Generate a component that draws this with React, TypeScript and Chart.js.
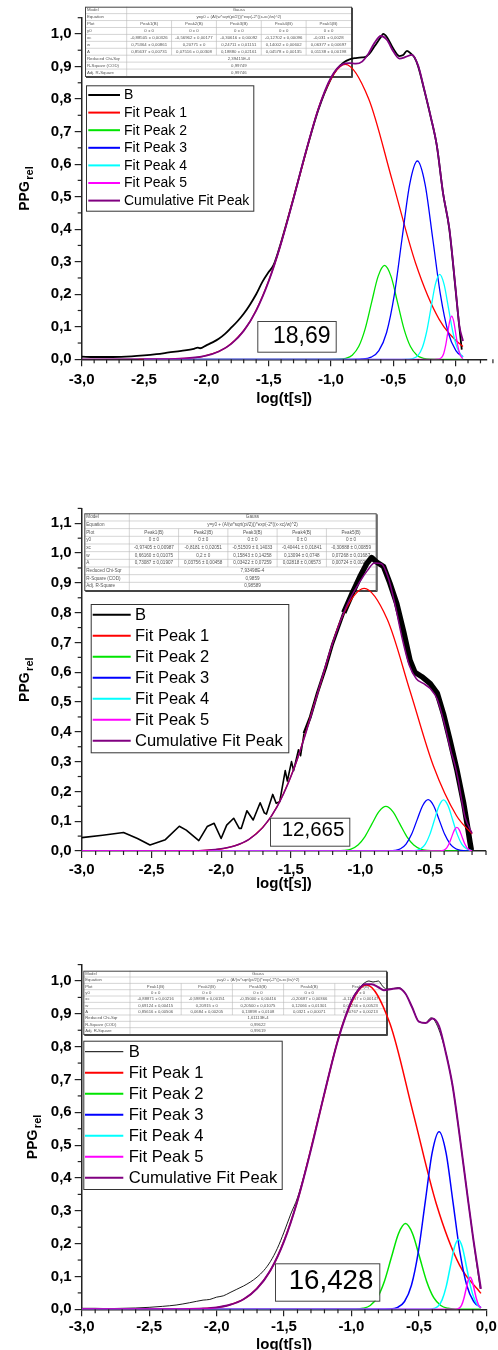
import React, { useEffect, useRef } from "react";
import { Chart, registerables } from "chart.js";

Chart.register(...registerables);

const FONT = '"Liberation Sans", Arial, Helvetica, sans-serif';
const W = 498;
const H = 450;
const AXIS = "#222222";

// ---------- shared text / style data ----------
const SERIES_LABELS = ["B", "Fit Peak 1", "Fit Peak 2", "Fit Peak 3", "Fit Peak 4", "Fit Peak 5", "Cumulative Fit Peak"];
const SERIES_COLORS = ["#000000", "#ff0000", "#00e400", "#0000ff", "#00ffff", "#ff00ff", "#800080"];
const SERIES_ORDER = [7, 6, 5, 4, 3, 1, 2];
const X_TITLE = "log(t[s])";
const Y_TITLE = "PPG";
const Y_TITLE_SUB = "rel";
const BOX_LABELS = ["18,69", "12,665", "16,428"];

const X_TICKS_1 = [-3, -2.5, -2, -1.5, -1, -0.5, 0];
const X_TICKS_2 = [-3, -2.5, -2, -1.5, -1, -0.5];
const X_TICKS_3 = [-3, -2.5, -2, -1.5, -1, -0.5, 0];
const Y_TICKS_1 = [0, 0.1, 0.2, 0.3, 0.4, 0.5, 0.6, 0.7, 0.8, 0.9, 1.0];
const Y_TICKS_2 = [0, 0.1, 0.2, 0.3, 0.4, 0.5, 0.6, 0.7, 0.8, 0.9, 1.0, 1.1];
const Y_TICKS_3 = [0, 0.1, 0.2, 0.3, 0.4, 0.5, 0.6, 0.7, 0.8, 0.9, 1.0];

// ---------- fit tables ----------
const TABLE_ROWS = ["Model", "Equation", "Plot", "y0", "xc", "w", "A", "Reduced Chi-Sqr", "R-Square (COD)", "Adj. R-Square"];
const TABLE_MODEL = "Gauss";
const TABLE_EQUATION = "y=y0 + (A/(w*sqrt(pi/2)))*exp(-2*((x-xc)/w)^2)";
const TABLE_PLOTS = ["Peak1(B)", "Peak2(B)", "Peak3(B)", "Peak4(B)", "Peak5(B)"];
const TABLE_Y0 = ["0 ± 0", "0 ± 0", "0 ± 0", "0 ± 0", "0 ± 0"];

const T1_XC = ["-0,88505 ± 0,00326", "-0,56962 ± 0,00177", "-0,30616 ± 0,00092", "-0,12702 ± 0,00096", "-0,031 ± 0,0028"];
const T1_W = ["0,75364 ± 0,00861", "0,20771 ± 0", "0,24711 ± 0,01151", "0,14002 ± 0,00602", "0,06377 ± 0,00697"];
const T1_A = ["0,85637 ± 0,00731", "0,07516 ± 0,00308", "0,18880 ± 0,02161", "0,04578 ± 0,00135", "0,01138 ± 0,00198"];
const T1_STATS = ["2,39415E-4", "0,99749", "0,99746"];

const T2_XC = ["-0,97405 ± 0,00987", "-0,8181 ± 0,02051", "-0,51509 ± 0,14033", "-0,40441 ± 0,01841", "-0,30888 ± 0,00859"];
const T2_W = ["0,66160 ± 0,01075", "0,2 ± 0", "0,15843 ± 0,14258", "0,13094 ± 0,0748", "0,07268 ± 0,01687"];
const T2_A = ["0,73087 ± 0,01907", "0,03756 ± 0,00458", "0,03422 ± 0,07259", "0,02818 ± 0,06573", "0,00724 ± 0,00235"];
const T2_STATS = ["7,93498E-4", "0,9859", "0,98589"];

const T3_XC = ["-0,88871 ± 0,00216", "-0,59898 ± 0,00151", "-0,35000 ± 0,00416", "-0,20687 ± 0,00366", "-0,11957 ± 0,00147"];
const T3_W = ["0,69124 ± 0,00415", "0,20915 ± 0", "0,20500 ± 0,01075", "0,12066 ± 0,01301", "0,06256 ± 0,00523"];
const T3_A = ["0,85616 ± 0,00506", "0,0684 ± 0,00205", "0,13898 ± 0,0108", "0,0321 ± 0,00071", "0,00767 ± 0,00213"];
const T3_STATS = ["1,61113E-4", "0,99622", "0,99619"];

// ---------- chart 1 series ----------
const C1_B_X = [-3.0, -2.9, -2.75, -2.6, -2.5, -2.4, -2.3, -2.2, -2.1, -2.07, -2.05, -2.0, -1.95, -1.9, -1.85, -1.8, -1.75, -1.7, -1.65, -1.6, -1.55, -1.5, -1.46, -1.4, -1.3, -1.2, -1.1, -1.0, -0.95, -0.9, -0.85, -0.8, -0.75, -0.72, -0.68, -0.65, -0.6, -0.58, -0.55, -0.5, -0.45, -0.42, -0.39, -0.36, -0.33, -0.3, -0.25, -0.2, -0.15, -0.1, -0.05, 0.0, 0.03, 0.05];
const C1_B_Y = [0.008, 0.007, 0.007, 0.009, 0.012, 0.016, 0.021, 0.026, 0.032, 0.036, 0.034, 0.043, 0.052, 0.063, 0.078, 0.097, 0.117, 0.14, 0.168, 0.2, 0.238, 0.268, 0.29, 0.36, 0.496, 0.638, 0.768, 0.862, 0.893, 0.912, 0.922, 0.926, 0.928, 0.93, 0.945, 0.962, 0.99, 1.0, 0.99, 0.955, 0.932, 0.935, 0.948, 0.94, 0.928, 0.9, 0.826, 0.746, 0.656, 0.51, 0.4, 0.215, 0.1, 0.03];
const C1_P1_X = [-2.5429, -2.2415, -2.0154, -1.827, -1.6386, -1.4502, -1.2618, -1.0734, -0.885, -0.6966, -0.5082, -0.3198, -0.1314, 0.057, 0.06];
const C1_P1_Y = [0, 0.0014, 0.0101, 0.0398, 0.1227, 0.2944, 0.5499, 0.8002, 0.9067, 0.8002, 0.5499, 0.2944, 0.1227, 0.0398, 0.0393];
const C1_P2_X = [-2.5, -1.0265, -0.9435, -0.8812, -0.8292, -0.7773, -0.7254, -0.6735, -0.6215, -0.5696, -0.5177, -0.4657, -0.4138, -0.3619, -0.31, -0.258, -0.1957, -0.1127, 0.06];
const C1_P2_Y = [0, 0, 0.0004, 0.0032, 0.0127, 0.0391, 0.0937, 0.1751, 0.2548, 0.2887, 0.2548, 0.1751, 0.0937, 0.0391, 0.0127, 0.0032, 0.0004, 0, 0];
const C1_P3_X = [-2.5, -0.8498, -0.751, -0.6769, -0.6151, -0.5533, -0.4915, -0.4298, -0.368, -0.3062, -0.2444, -0.1826, -0.1209, -0.0591, 0.0027, 0.06];
const C1_P3_Y = [0, 0, 0.0009, 0.0068, 0.0268, 0.0825, 0.1979, 0.3697, 0.538, 0.6096, 0.538, 0.3697, 0.1979, 0.0825, 0.0268, 0.0075];
const C1_P4_X = [-2.5, -0.435, -0.379, -0.337, -0.302, -0.267, -0.232, -0.197, -0.162, -0.127, -0.092, -0.057, -0.022, 0.013, 0.048, 0.06];
const C1_P4_Y = [0, 0, 0.0004, 0.0029, 0.0115, 0.0353, 0.0847, 0.1582, 0.2302, 0.2609, 0.2302, 0.1582, 0.0847, 0.0353, 0.0115, 0.0074];
const C1_P5_X = [-2.5, -0.1714, -0.1458, -0.1267, -0.1108, -0.0948, -0.0789, -0.0629, -0.047, -0.031, -0.015, 0.0009, 0.0169, 0.0328, 0.0488, 0.06];
const C1_P5_Y = [0, 0, 0.0002, 0.0015, 0.0058, 0.018, 0.0432, 0.0807, 0.1174, 0.133, 0.1174, 0.0807, 0.0432, 0.018, 0.0058, 0.0023];
const C1_CUM_X = [-3.0, -2.5, -2.25, -2.0, -1.9, -1.8, -1.7, -1.6, -1.5, -1.4, -1.3, -1.2, -1.1, -1.0, -0.9, -0.85, -0.8, -0.75, -0.7, -0.65, -0.6, -0.55, -0.5, -0.45, -0.4, -0.35, -0.3, -0.25, -0.2, -0.15, -0.1, -0.05, 0.0, 0.03, 0.06];
const C1_CUM_Y = [0, 0.0001, 0.0013, 0.0114, 0.0241, 0.0475, 0.0874, 0.1498, 0.2394, 0.3563, 0.4944, 0.6393, 0.7705, 0.8656, 0.9078, 0.9103, 0.9087, 0.9151, 0.9388, 0.9731, 0.9938, 0.9813, 0.9467, 0.9242, 0.9293, 0.9359, 0.9027, 0.8271, 0.747, 0.6568, 0.5099, 0.4028, 0.219, 0.105, 0.0565];

// ---------- chart 2 series ----------
const C2_B_X = [-3.0, -2.85, -2.7, -2.6, -2.51, -2.4, -2.3, -2.25, -2.16, -2.1, -2.05, -2.0, -1.96, -1.91, -1.87, -1.855, -1.815, -1.77, -1.72, -1.69, -1.675, -1.63, -1.605, -1.58, -1.54, -1.525, -1.495, -1.48, -1.445, -1.43, -1.405, -1.36, -1.31, -1.25, -1.2, -1.12, -1.06, -1.0, -0.955, -0.92, -0.885, -0.835, -0.79, -0.74, -0.69, -0.645, -0.61, -0.56, -0.5, -0.45, -0.405, -0.36, -0.31, -0.26, -0.23, -0.215, -0.205];
const C2_B_Y = [0.045, 0.053, 0.062, 0.042, 0.02, 0.038, 0.083, 0.07, 0.035, 0.082, 0.093, 0.042, 0.087, 0.11, 0.076, 0.076, 0.135, 0.104, 0.162, 0.128, 0.124, 0.19, 0.16, 0.165, 0.27, 0.235, 0.3, 0.27, 0.34, 0.32, 0.395, 0.45, 0.53, 0.615, 0.695, 0.8, 0.865, 0.925, 0.965, 0.985, 0.97, 0.955, 0.9, 0.83, 0.735, 0.64, 0.6, 0.585, 0.562, 0.53, 0.46, 0.375, 0.275, 0.16, 0.075, 0.03, 0.003];
const C2_P1_X = [-3.0, -2.4295, -2.1649, -1.9664, -1.801, -1.6356, -1.4702, -1.3048, -1.1394, -0.974, -0.8086, -0.6432, -0.4778, -0.3124, -0.2];
const C2_P1_Y = [0, 0, 0.0013, 0.0098, 0.0387, 0.1193, 0.2862, 0.5346, 0.7778, 0.8814, 0.7778, 0.5346, 0.2862, 0.1193, 0.057];
const C2_P2_X = [-3.0, -1.2581, -1.1781, -1.1181, -1.0681, -1.0181, -0.9681, -0.9181, -0.8681, -0.8181, -0.7681, -0.7181, -0.6681, -0.6181, -0.5681, -0.5181, -0.4581, -0.3781, -0.2];
const C2_P2_Y = [0, 0, 0.0002, 0.0017, 0.0066, 0.0203, 0.0486, 0.0909, 0.1322, 0.1498, 0.1322, 0.0909, 0.0486, 0.0203, 0.0066, 0.0017, 0.0002, 0, 0];
const C2_P3_X = [-3.0, -0.8636, -0.8002, -0.7527, -0.7131, -0.6735, -0.6339, -0.5943, -0.5547, -0.5151, -0.4755, -0.4359, -0.3963, -0.3567, -0.3171, -0.2775, -0.23, -0.2];
const C2_P3_Y = [0, 0, 0.0003, 0.0019, 0.0076, 0.0233, 0.0559, 0.1045, 0.1521, 0.1723, 0.1521, 0.1045, 0.0559, 0.0233, 0.0076, 0.0019, 0.0003, 0.0001];
const C2_P4_X = [-3.0, -0.6924, -0.64, -0.6008, -0.568, -0.5353, -0.5026, -0.4699, -0.4371, -0.4044, -0.3717, -0.3389, -0.3062, -0.2735, -0.2408, -0.208, -0.2];
const C2_P4_Y = [0, 0, 0.0003, 0.0019, 0.0075, 0.0232, 0.0558, 0.1041, 0.1515, 0.1717, 0.1515, 0.1041, 0.0558, 0.0232, 0.0075, 0.0019, 0.0013];
const C2_P5_X = [-3.0, -0.4689, -0.4398, -0.418, -0.3998, -0.3816, -0.3634, -0.3453, -0.3271, -0.3089, -0.2907, -0.2725, -0.2544, -0.2362, -0.218, -0.2];
const C2_P5_Y = [0, 0, 0.0001, 0.0009, 0.0035, 0.0108, 0.0258, 0.0482, 0.0702, 0.0795, 0.0702, 0.0482, 0.0258, 0.0108, 0.0035, 0.0009];
const C2_CUM_X = [-3.0, -2.5, -2.25, -2.1, -2.0, -1.9, -1.8, -1.7, -1.6, -1.5, -1.4, -1.3, -1.2, -1.1, -1.0, -0.95, -0.9, -0.85, -0.8, -0.75, -0.7, -0.65, -0.6, -0.55, -0.5, -0.45, -0.4, -0.35, -0.325, -0.3, -0.275, -0.25, -0.2];
const C2_CUM_Y = [0, 0, 0.0005, 0.0027, 0.0072, 0.0175, 0.039, 0.0793, 0.1471, 0.249, 0.3846, 0.5424, 0.698, 0.8225, 0.9073, 0.9419, 0.9667, 0.9642, 0.9152, 0.8217, 0.7113, 0.6227, 0.5781, 0.5625, 0.5451, 0.5092, 0.4302, 0.3319, 0.2926, 0.2402, 0.1721, 0.113, 0.0593];

// ---------- chart 3 series ----------
const C3_B_X = [-3.0, -2.9, -2.8, -2.7, -2.6, -2.5, -2.4, -2.3, -2.2, -2.1, -2.05, -2.0, -1.95, -1.9, -1.85, -1.8, -1.75, -1.7, -1.65, -1.6, -1.55, -1.5, -1.45, -1.4, -1.3, -1.2, -1.1, -1.0, -0.95, -0.9, -0.87, -0.84, -0.8, -0.77, -0.74, -0.7, -0.65, -0.6, -0.55, -0.5, -0.45, -0.41, -0.37, -0.3, -0.25, -0.2, -0.15, -0.1, -0.045];
const C3_B_Y = [0.003, 0.003, 0.002, 0.003, 0.004, 0.006, 0.009, 0.013, 0.02, 0.028, 0.03, 0.037, 0.041, 0.051, 0.061, 0.071, 0.083, 0.098, 0.118, 0.146, 0.185, 0.235, 0.29, 0.34, 0.488, 0.66, 0.82, 0.94, 0.975, 0.995, 1.0, 0.997, 1.0, 0.985, 0.975, 0.976, 0.98, 0.962, 0.92, 0.877, 0.872, 0.888, 0.87, 0.782, 0.68, 0.536, 0.379, 0.224, 0.062];
const C3_P1_X = [-3.0, -2.4093, -2.1329, -1.9255, -1.7527, -1.5799, -1.4071, -1.2343, -1.0615, -0.8887, -0.7159, -0.5431, -0.3703, -0.1975, -0.04];
const C3_P1_Y = [0, 0, 0.0015, 0.011, 0.0434, 0.1337, 0.3208, 0.5992, 0.8719, 0.988, 0.8719, 0.5992, 0.3208, 0.1337, 0.0484];
const C3_P2_X = [-3.0, -1.0592, -0.9756, -0.9128, -0.8605, -0.8082, -0.7559, -0.7036, -0.6513, -0.599, -0.5467, -0.4944, -0.4421, -0.3898, -0.3375, -0.2852, -0.2224, -0.1388, -0.04];
const C3_P2_Y = [0, 0, 0.0004, 0.0029, 0.0115, 0.0353, 0.0847, 0.1583, 0.2303, 0.261, 0.2303, 0.1583, 0.0847, 0.0353, 0.0115, 0.0029, 0.0004, 0, 0];
const C3_P3_X = [-3.0, -0.801, -0.719, -0.6575, -0.6063, -0.555, -0.5038, -0.4525, -0.4013, -0.35, -0.2987, -0.2475, -0.1962, -0.145, -0.0937, -0.04];
const C3_P3_Y = [0, 0, 0.0008, 0.006, 0.0238, 0.0732, 0.1757, 0.3281, 0.4774, 0.541, 0.4774, 0.3281, 0.1757, 0.0732, 0.0238, 0.0056];
const C3_P4_X = [-3.0, -0.4725, -0.4243, -0.3881, -0.3579, -0.3277, -0.2975, -0.2674, -0.2372, -0.207, -0.1768, -0.1466, -0.1165, -0.0863, -0.0561, -0.04];
const C3_P4_Y = [0, 0, 0.0003, 0.0024, 0.0093, 0.0287, 0.0689, 0.1288, 0.1874, 0.2123, 0.1874, 0.1288, 0.0689, 0.0287, 0.0093, 0.0046];
const C3_P5_X = [-3.0, -0.2577, -0.2327, -0.2139, -0.1983, -0.1826, -0.167, -0.1513, -0.1357, -0.12, -0.1043, -0.0887, -0.073, -0.0574, -0.04];
const C3_P5_Y = [0, 0, 0.0001, 0.0011, 0.0043, 0.0132, 0.0318, 0.0593, 0.0863, 0.0978, 0.0863, 0.0593, 0.0318, 0.0132, 0.0037];
const C3_CUM_X = [-3.0, -2.5, -2.25, -2.1, -2.0, -1.9, -1.8, -1.7, -1.6, -1.5, -1.4, -1.3, -1.2, -1.1, -1.0, -0.95, -0.9, -0.85, -0.8, -0.76, -0.7, -0.65, -0.6, -0.55, -0.5, -0.45, -0.4, -0.35, -0.3, -0.25, -0.2, -0.15, -0.1, -0.04];
const C3_CUM_Y = [0, 0, 0.0004, 0.0021, 0.0056, 0.0137, 0.0306, 0.0628, 0.1189, 0.2067, 0.3308, 0.4866, 0.6585, 0.8196, 0.9383, 0.972, 0.99, 0.99, 0.981, 0.972, 0.976, 0.978, 0.962, 0.92, 0.876, 0.872, 0.886, 0.862, 0.781, 0.681, 0.536, 0.379, 0.2245, 0.0623];

// ---------- helpers ----------
const zip = (xs: number[], ys: number[]) => {
  const n = Math.min(xs.length, ys.length);
  const out: { x: number; y: number }[] = [];
  for (let i = 0; i < n; i++) out.push({ x: xs[i], y: ys[i] });
  return out;
};
const fmt = (v: number) => v.toFixed(1).replace(".", ",");

type Spec = {
  xMin: number; xMax: number; yMax: number;
  xTicks: number[]; yTicks: number[];
  area: { left: number; right: number; top: number; bottom: number };
  series: [number[], number[]][];
  lineWidths: number[];
  smoothB: boolean;
  bSegmentWidth?: (i: number) => number;
  legend: { x: number; y: number; w: number; h: number; l1: number; l2: number; tx: number; y0: number; step: number; fs: number; widths: number[] };
  box: { x: number; y: number; w: number; h: number; cx: number; cy: number; fs: number; text: string };
  table: { x: number; y: number; w: number; h: number; c0: number; fs: number; xc: string[]; wv: string[]; av: string[]; stats: string[] };
  xLabelPad: number;
  xTitleY: number;
  yTitleX: number;
};

function drawTable(ctx: CanvasRenderingContext2D, t: Spec["table"]) {
  const rh = t.h / 10;
  const cw = (t.w - t.c0) / 5;
  ctx.save();
  ctx.fillStyle = "#ffffff";
  ctx.fillRect(t.x, t.y, t.w, t.h);
  ctx.strokeStyle = "#b8b8b8";
  ctx.lineWidth = 0.6;
  for (let i = 1; i < 10; i++) {
    ctx.beginPath();
    ctx.moveTo(t.x, t.y + i * rh);
    ctx.lineTo(t.x + t.w, t.y + i * rh);
    ctx.stroke();
  }
  ctx.beginPath();
  ctx.moveTo(t.x + t.c0, t.y);
  ctx.lineTo(t.x + t.c0, t.y + t.h);
  ctx.stroke();
  for (let j = 1; j < 5; j++) {
    ctx.beginPath();
    ctx.moveTo(t.x + t.c0 + j * cw, t.y + 2 * rh);
    ctx.lineTo(t.x + t.c0 + j * cw, t.y + 7 * rh);
    ctx.stroke();
  }
  ctx.strokeStyle = "#444444";
  ctx.lineWidth = 1;
  ctx.strokeRect(t.x + 0.5, t.y + 0.5, t.w, t.h);
  ctx.beginPath();
  ctx.moveTo(t.x + t.w + 1.5, t.y + 1);
  ctx.lineTo(t.x + t.w + 1.5, t.y + t.h + 1.5);
  ctx.lineTo(t.x + 1, t.y + t.h + 1.5);
  ctx.stroke();

  ctx.fillStyle = "#555555";
  ctx.font = `${t.fs}px ${FONT}`;
  ctx.textBaseline = "middle";
  ctx.textAlign = "left";
  TABLE_ROWS.forEach((r, i) => ctx.fillText(r, t.x + 2, t.y + (i + 0.5) * rh));
  ctx.textAlign = "center";
  const mid = t.x + t.c0 + (t.w - t.c0) / 2;
  ctx.fillText(TABLE_MODEL, mid, t.y + 0.5 * rh);
  ctx.fillText(TABLE_EQUATION, mid, t.y + 1.5 * rh);
  const rows = [TABLE_PLOTS, TABLE_Y0, t.xc, t.wv, t.av];
  rows.forEach((cells, ri) => {
    cells.forEach((c, ci) => ctx.fillText(c, t.x + t.c0 + (ci + 0.5) * cw, t.y + (ri + 2.5) * rh));
  });
  t.stats.forEach((s, i) => ctx.fillText(s, mid, t.y + (i + 7.5) * rh));
  ctx.restore();
}

function decorPlugin(spec: Spec) {
  return {
    id: "decor",
    beforeDatasetsDraw(chart: any) {
      drawTable(chart.ctx, spec.table);
    },
    afterDatasetsDraw(chart: any) {
      const ctx: CanvasRenderingContext2D = chart.ctx;
      const xs = chart.scales.x;
      const ys = chart.scales.y;
      const a = chart.chartArea;
      ctx.save();
      // minor ticks
      ctx.strokeStyle = AXIS;
      ctx.lineWidth = 1.2;
      const i0 = Math.round(spec.xMin * 10);
      const i1 = Math.round(spec.xMax * 10);
      for (let i = i0; i <= i1; i++) {
        if (i % 5 === 0) continue;
        const px = xs.getPixelForValue(i / 10);
        ctx.beginPath();
        ctx.moveTo(px, a.bottom);
        ctx.lineTo(px, a.bottom + 4);
        ctx.stroke();
      }
      const j1 = Math.round(spec.yMax * 20);
      for (let j = 1; j <= j1; j += 2) {
        const py = ys.getPixelForValue(j / 20);
        ctx.beginPath();
        ctx.moveTo(a.left - 4, py);
        ctx.lineTo(a.left, py);
        ctx.stroke();
      }
      // axis titles
      ctx.fillStyle = "#000";
      ctx.font = `bold 15px ${FONT}`;
      ctx.textAlign = "center";
      ctx.textBaseline = "middle";
      ctx.fillText(X_TITLE, (a.left + a.right) / 2, spec.xTitleY);
      ctx.save();
      ctx.translate(spec.yTitleX, (a.top + a.bottom) / 2);
      ctx.rotate(-Math.PI / 2);
      ctx.font = `bold 14px ${FONT}`;
      const wP = ctx.measureText(Y_TITLE).width;
      ctx.font = `bold 11px ${FONT}`;
      const wS = ctx.measureText(Y_TITLE_SUB).width;
      const start = -(wP + 1.5 + wS) / 2;
      ctx.textAlign = "left";
      ctx.font = `bold 14px ${FONT}`;
      ctx.fillText(Y_TITLE, start, 0);
      ctx.font = `bold 11px ${FONT}`;
      ctx.fillText(Y_TITLE_SUB, start + wP + 1.5, 5);
      ctx.restore();
      // legend
      const L = spec.legend;
      ctx.fillStyle = "#ffffff";
      ctx.fillRect(L.x, L.y, L.w, L.h);
      ctx.strokeStyle = "#333333";
      ctx.lineWidth = 1;
      ctx.strokeRect(L.x + 0.5, L.y + 0.5, L.w, L.h);
      ctx.font = `${L.fs}px ${FONT}`;
      ctx.textAlign = "left";
      ctx.textBaseline = "middle";
      SERIES_LABELS.forEach((lab, i) => {
        const y = L.y0 + i * L.step;
        ctx.strokeStyle = SERIES_COLORS[i];
        ctx.lineWidth = L.widths[i];
        ctx.beginPath();
        ctx.moveTo(L.l1, y);
        ctx.lineTo(L.l2, y);
        ctx.stroke();
        ctx.fillStyle = "#000";
        ctx.fillText(lab, L.tx, y + 0.5);
      });
      // value box
      const B = spec.box;
      ctx.fillStyle = "#ffffff";
      ctx.fillRect(B.x, B.y, B.w, B.h);
      ctx.strokeStyle = "#444444";
      ctx.lineWidth = 1;
      ctx.strokeRect(B.x + 0.5, B.y + 0.5, B.w, B.h);
      ctx.fillStyle = "#000";
      ctx.font = `${B.fs}px ${FONT}`;
      ctx.textAlign = "center";
      ctx.fillText(B.text, B.cx, B.cy + 1);
      ctx.restore();
    },
  };
}

function buildConfig(spec: Spec): any {
  const datasets = spec.series.map(([xs, ys], i) => {
    const ds: any = {
      label: SERIES_LABELS[i],
      data: zip(xs, ys),
      borderColor: SERIES_COLORS[i],
      backgroundColor: SERIES_COLORS[i],
      borderWidth: spec.lineWidths[i],
      pointRadius: 0,
      pointHoverRadius: 0,
      fill: false,
      order: SERIES_ORDER[i],
      borderJoinStyle: "round",
    };
    if (i === 0 && !spec.smoothB) {
      ds.tension = 0;
    } else {
      ds.cubicInterpolationMode = "monotone";
    }
    if (i === 0 && spec.bSegmentWidth) {
      const f = spec.bSegmentWidth;
      ds.segment = { borderWidth: (ctx: any) => f(ctx.p0DataIndex) };
    }
    return ds;
  });
  const a = spec.area;
  return {
    type: "line",
    data: { datasets },
    options: {
      animation: false,
      responsive: false,
      devicePixelRatio: 1,
      events: [],
      layout: { padding: { left: 0, top: a.top, right: W - a.right, bottom: 0 } },
      plugins: { legend: { display: false }, tooltip: { enabled: false }, title: { display: false } },
      scales: {
        x: {
          type: "linear",
          bounds: "data",
          min: spec.xMin,
          max: spec.xMax,
          afterBuildTicks: (s: any) => {
            s.ticks = spec.xTicks.map((v) => ({ value: v }));
          },
          afterFit: (s: any) => {
            s.height = H - a.bottom;
            s.paddingLeft = 0;
            s.paddingRight = 0;
          },
          ticks: {
            autoSkip: false,
            maxRotation: 0,
            minRotation: 0,
            padding: spec.xLabelPad,
            color: "#000",
            font: { family: FONT, size: 15, weight: "bold" },
            callback: (v: any) => fmt(Number(v)),
          },
          grid: { drawOnChartArea: false, drawTicks: true, tickLength: 7, color: AXIS, lineWidth: 1.2 },
          border: { display: true, color: AXIS, width: 1.5 },
        },
        y: {
          type: "linear",
          bounds: "data",
          min: 0,
          max: spec.yMax,
          afterBuildTicks: (s: any) => {
            s.ticks = spec.yTicks.map((v) => ({ value: v }));
          },
          afterFit: (s: any) => {
            s.width = a.left;
            s.paddingTop = 0;
            s.paddingBottom = 0;
          },
          ticks: {
            autoSkip: false,
            padding: 3,
            color: "#000",
            font: { family: FONT, size: 15, weight: "bold" },
            callback: (v: any) => fmt(Number(v)),
          },
          grid: { drawOnChartArea: false, drawTicks: true, tickLength: 7, color: AXIS, lineWidth: 1.2 },
          border: { display: true, color: AXIS, width: 1.5 },
        },
      },
    },
    plugins: [decorPlugin(spec)],
  };
}

const SPECS: Spec[] = [
  {
    xMin: -3, xMax: 0.25, yMax: 1.05, xTicks: X_TICKS_1, yTicks: Y_TICKS_1,
    area: { left: 81.7, right: 486.7, top: 17.7, bottom: 359.3 },
    series: [[C1_B_X, C1_B_Y], [C1_P1_X, C1_P1_Y], [C1_P2_X, C1_P2_Y], [C1_P3_X, C1_P3_Y], [C1_P4_X, C1_P4_Y], [C1_P5_X, C1_P5_Y], [C1_CUM_X, C1_CUM_Y]],
    lineWidths: [1.8, 1.3, 1.3, 1.3, 1.3, 1.3, 1.8],
    smoothB: true,
    legend: { x: 86, y: 85.3, w: 167.3, h: 125.4, l1: 88.3, l2: 120, tx: 124, y0: 95, step: 17.6, fs: 14, widths: [2, 2, 2, 2, 2, 2, 2] },
    box: { x: 257.3, y: 321, w: 78.4, h: 30.7, cx: 301.7, cy: 336, fs: 23, text: BOX_LABELS[0] },
    table: { x: 85, y: 6.7, w: 266, h: 69.3, c0: 41.7, fs: 4.3, xc: T1_XC, wv: T1_W, av: T1_A, stats: T1_STATS },
    xLabelPad: 5,
    xTitleY: 399,
    yTitleX: 25,
  },
  {
    xMin: -3, xMax: -0.1, yMax: 1.15, xTicks: X_TICKS_2, yTicks: Y_TICKS_2,
    area: { left: 81.7, right: 486, top: 58.4, bottom: 401 },
    series: [[C2_B_X, C2_B_Y], [C2_P1_X, C2_P1_Y], [C2_P2_X, C2_P2_Y], [C2_P3_X, C2_P3_Y], [C2_P4_X, C2_P4_Y], [C2_P5_X, C2_P5_Y], [C2_CUM_X, C2_CUM_Y]],
    lineWidths: [1.6, 1.3, 1.3, 1.3, 1.3, 1.3, 1.5],
    smoothB: false,
    bSegmentWidth: (i: number) => (C2_B_X[i] >= -1.15 ? 5.5 : C2_B_X[i] >= -1.42 ? 3 : 1.6),
    legend: { x: 90.7, y: 154, w: 197.6, h: 148.3, l1: 92.7, l2: 130.7, tx: 135, y0: 164.7, step: 21, fs: 16.5, widths: [2, 2, 2, 2, 2, 2, 2] },
    box: { x: 270, y: 367.7, w: 79.3, h: 28, cx: 313, cy: 379.3, fs: 20.5, text: BOX_LABELS[1] },
    table: { x: 84.3, y: 63.3, w: 291.4, h: 76.7, c0: 45, fs: 4.6, xc: T2_XC, wv: T2_W, av: T2_A, stats: T2_STATS },
    xLabelPad: 3,
    xTitleY: 434,
    yTitleX: 25,
  },
  {
    xMin: -3, xMax: 0, yMax: 1.05, xTicks: X_TICKS_3, yTicks: Y_TICKS_3,
    area: { left: 81.7, right: 486.3, top: 64.6, bottom: 409.3 },
    series: [[C3_B_X, C3_B_Y], [C3_P1_X, C3_P1_Y], [C3_P2_X, C3_P2_Y], [C3_P3_X, C3_P3_Y], [C3_P4_X, C3_P4_Y], [C3_P5_X, C3_P5_Y], [C3_CUM_X, C3_CUM_Y]],
    lineWidths: [0.9, 1.5, 1.5, 1.5, 1.5, 1.5, 2],
    smoothB: true,
    legend: { x: 83.3, y: 140.7, w: 198.4, h: 148.3, l1: 85, l2: 123.3, tx: 128.7, y0: 151.7, step: 21, fs: 16.6, widths: [1, 2, 2, 2, 2, 2, 2] },
    box: { x: 275, y: 363.3, w: 104.3, h: 37.4, cx: 331, cy: 380, fs: 27.7, text: BOX_LABELS[2] },
    table: { x: 83.3, y: 70.7, w: 302.7, h: 63.3, c0: 46.7, fs: 4.2, xc: T3_XC, wv: T3_W, av: T3_A, stats: T3_STATS },
    xLabelPad: 2,
    xTitleY: 445,
    yTitleX: 33,
  },
];

function PlotCanvas({ spec }: { spec: Spec }) {
  const ref = useRef<HTMLCanvasElement | null>(null);
  useEffect(() => {
    if (!ref.current) return;
    const chart = new Chart(ref.current, buildConfig(spec));
    return () => chart.destroy();
  }, [spec]);
  return <canvas ref={ref} width={W} height={H} style={{ display: "block", width: W, height: H }} />;
}

export default function App() {
  return (
    <div style={{ position: "absolute", left: 0, top: 0, width: W, height: 1350, background: "#ffffff", overflow: "hidden" }}>
      {SPECS.map((s, i) => (
        <PlotCanvas key={i} spec={s} />
      ))}
    </div>
  );
}
